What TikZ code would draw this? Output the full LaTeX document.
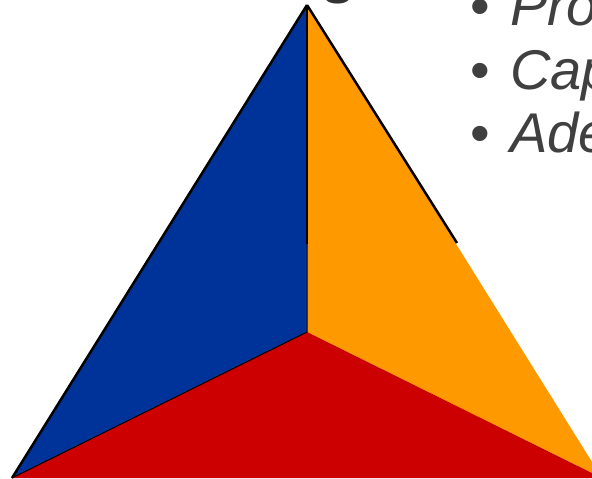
\documentclass[tikz,border=0pt]{standalone}
\usepackage{fontspec}
\setmainfont{Liberation Sans}
\usepackage{xcolor}
\definecolor{triblue}{HTML}{003399}
\definecolor{triorange}{HTML}{FF9900}
\definecolor{trired}{HTML}{CC0000}
\definecolor{itemgray}{HTML}{404040}
\definecolor{titlegray}{HTML}{333333}
\tikzset{
  itemdot/.style={anchor=base,inner sep=0pt,text=itemgray,font=\fontsize{56}{63}\selectfont},
  itemtext/.style={anchor=base west,inner sep=0pt,text=itemgray,font=\itshape\fontsize{56}{63}\selectfont},
  thickedge/.style={line width=2.5pt},
  thinedge/.style={line width=1pt}
}

\begin{document}
\begin{tikzpicture}[x=1pt,y=-1pt]
  \useasboundingbox (0,0) rectangle (592,479);
  \clip (0,0) rectangle (592,479);
  \coordinate (A) at (307,5);
  \coordinate (L) at (12,478);
  \coordinate (R) at (602,478);
  \coordinate (C) at (307,332);
  \coordinate (M) at (307,244);
  \coordinate (E) at (457,243);
  \fill[triblue] (A)--(L)--(C)--cycle;
  \fill[triorange] (A)--(C)--(R)--cycle;
  \fill[trired] (L)--(C)--(R)--cycle;
  \draw[thickedge] (A)--(L);
  \draw[thickedge] (A)--(M);
  \draw[thickedge] (A)--(E);
  \draw[thinedge] (M)--(C)--(L);
  % title, only its lower part shows
  \node[anchor=base,inner sep=0pt,text=titlegray,font=\bfseries\fontsize{56}{60}\selectfont] (title) at (338,3) {s};
  % list
  \node[itemdot] (b1) at (480,25) {•};
  \node[itemtext] (t1) at (510,25) {Pro};
  \node[itemdot] (b2) at (480,89) {•};
  \node[itemtext] (t2) at (510,89) {Cap};
  \node[itemdot] (b3) at (480,152) {•};
  \node[itemtext] (t3) at (510,152) {Adé};
\end{tikzpicture}
\end{document}
